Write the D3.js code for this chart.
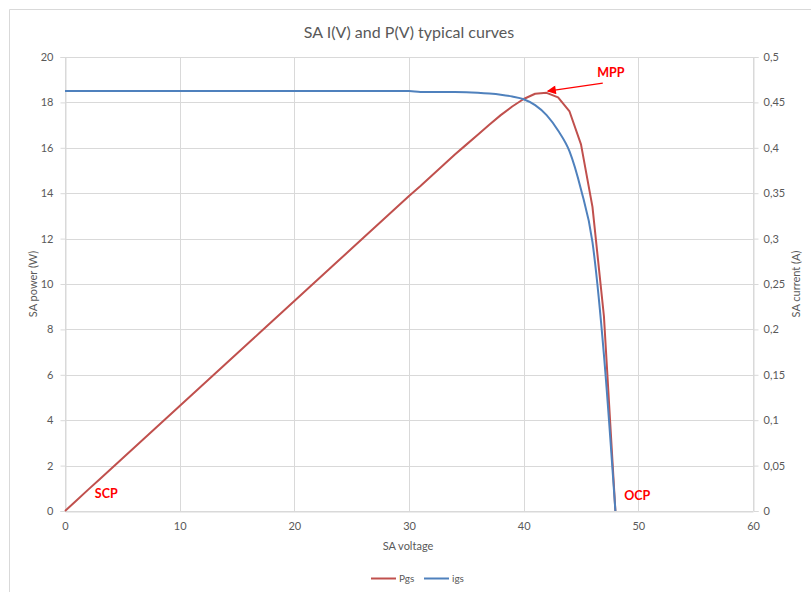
<!DOCTYPE html>
<html>
<head>
<meta charset="utf-8">
<script src="https://cdn.jsdelivr.net/npm/d3@7"></script>
<style>
  html, body { margin: 0; padding: 0; background: #fff; }
  svg { display: block; font-family: Lato, "Open Sans", sans-serif; }
</style>
</head>
<body>
<svg id="chart" width="811" height="592"></svg>
<script>
// ---- Data ----
const voltage = [0,1,2,3,4,5,6,7,8,9,10,11,12,13,14,15,16,17,18,19,20,21,22,23,24,25,26,27,28,29,30,31,32,33,34,35,36,37,38,39,40,41,42,43,44,45,46,47,48];
const powerPgs = [0,0.46,0.93,1.39,1.85,2.31,2.78,3.24,3.70,4.16,4.63,5.09,5.55,6.01,6.48,6.94,7.40,7.86,8.33,8.79,9.25,9.71,10.18,10.64,11.10,11.56,12.03,12.49,12.95,13.41,13.88,14.32,14.78,15.24,15.70,16.14,16.58,17.02,17.44,17.82,18.15,18.38,18.42,18.22,17.60,16.15,13.40,8.58,0];
const currentIgs = [0.4625,0.4625,0.4625,0.4625,0.4625,0.4625,0.4625,0.4625,0.4625,0.4625,0.4625,0.4625,0.4625,0.4625,0.4625,0.4625,0.4625,0.4625,0.4625,0.4625,0.4625,0.4625,0.4625,0.4625,0.4625,0.4625,0.4625,0.4625,0.4625,0.4625,0.4625,0.4615,0.4615,0.4615,0.4615,0.4613,0.4607,0.4598,0.4585,0.4565,0.4535,0.447,0.436,0.419,0.396,0.354,0.296,0.172,0];
const xTicks = [0,10,20,30,40,50,60];
const yLeftTicks = [0,2,4,6,8,10,12,14,16,18,20];
const yRightTicks = [0,0.05,0.1,0.15,0.2,0.25,0.3,0.35,0.4,0.45,0.5];
const seriesNames = ["Pgs","igs"];
const annotations = [
  {text:"SCP", v:3.6, p:0.75},
  {text:"OCP", v:49.9, p:0.66},
  {text:"MPP", v:47.6, p:19.3}
];
const arrowFrom = {v:46.9, p:18.85};
const arrowTo = {v:42.1, p:18.5};

// ---- Layout ----
const svg = d3.select("#chart");
const pL = 65, pR = 753, pT = 57, pB = 511;
const x = d3.scaleLinear().domain([0,60]).range([pL,pR]);
const yL = d3.scaleLinear().domain([0,20]).range([pB,pT]);
const yR = d3.scaleLinear().domain([0,0.5]).range([pB,pT]);
const gridColor = "#d9d9d9", textColor = "#595959";
const red = "#C0504D", blue = "#4F81BD";

svg.append("rect").attr("x",0).attr("y",0).attr("width",811).attr("height",592).attr("fill","#fff");
// chart border
svg.append("path").attr("d","M9.5,600V9.5H820").attr("fill","none").attr("stroke",gridColor).attr("stroke-width",1);

// title
svg.append("text").attr("x",409).attr("y",38).attr("text-anchor","middle")
  .attr("font-size",16).attr("fill",textColor).text("SA I(V) and P(V) typical curves");

// gridlines
svg.append("g").selectAll("line").data(yLeftTicks).join("line")
  .attr("x1",pL).attr("x2",pR)
  .attr("y1",d=>Math.round(yL(d))+0.5).attr("y2",d=>Math.round(yL(d))+0.5)
  .attr("stroke",gridColor);
svg.append("g").selectAll("line").data(xTicks).join("line")
  .attr("y1",pT).attr("y2",pB)
  .attr("x1",d=>Math.round(x(d))+0.5).attr("x2",d=>Math.round(x(d))+0.5)
  .attr("stroke",gridColor);

// axes
const fmtR = d => d3.format("~g")(d).replace(".", ",");
const axL = svg.append("g").attr("transform",`translate(${pL+0.5},0)`)
  .call(d3.axisLeft(yL).tickValues(yLeftTicks).tickSize(5).tickPadding(7));
const axR = svg.append("g").attr("transform",`translate(${pR+0.5},0)`)
  .call(d3.axisRight(yR).tickValues(yRightTicks).tickSize(5).tickPadding(5).tickFormat(fmtR));
const axB = svg.append("g").attr("transform",`translate(0,${pB+0.5})`)
  .call(d3.axisBottom(x).tickValues(xTicks).tickSize(0).tickPadding(11));
[axL,axR,axB].forEach(a=>{
  a.selectAll(".domain").attr("stroke",gridColor);
  a.selectAll(".tick line").attr("stroke",gridColor);
  a.selectAll("text").attr("fill",textColor).attr("font-size",11).attr("font-family","Lato, sans-serif");
});

// axis titles
svg.append("text").attr("transform","translate(37,284) rotate(-90)").attr("text-anchor","middle")
  .attr("font-size",11).attr("fill",textColor).text("SA power (W)");
svg.append("text").attr("transform","translate(800,284) rotate(-90)").attr("text-anchor","middle")
  .attr("font-size",11).attr("fill",textColor).text("SA current (A)");
svg.append("text").attr("x",408).attr("y",550).attr("text-anchor","middle")
  .attr("font-size",11).attr("fill",textColor).text("SA voltage");

// lines
const pData = voltage.map((v,i)=>[v,powerPgs[i]]);
const iData = voltage.map((v,i)=>[v,currentIgs[i]]);
svg.append("path").datum(pData)
  .attr("d", d3.line().x(d=>x(d[0])).y(d=>yL(d[1])))
  .attr("fill","none").attr("stroke",red).attr("stroke-width",2).attr("stroke-linejoin","round");
svg.append("path").datum(iData)
  .attr("d", d3.line().x(d=>x(d[0])).y(d=>yR(d[1])).curve(d3.curveMonotoneX))
  .attr("fill","none").attr("stroke",blue).attr("stroke-width",2).attr("stroke-linejoin","round");

// annotations
svg.selectAll(".ann").data(annotations).join("text")
  .attr("x",d=>x(d.v)).attr("y",d=>yL(d.p)+4).attr("text-anchor","middle")
  .attr("font-size",12.5).attr("font-weight","bold").attr("fill","#FF0000").text(d=>d.text);
svg.append("defs").append("marker").attr("id","arr").attr("viewBox","0 0 10 10")
  .attr("refX",9).attr("refY",5).attr("orient","auto")
  .attr("markerUnits","userSpaceOnUse").attr("markerWidth",11).attr("markerHeight",9)
  .append("path").attr("d","M0,0L10,5L0,10z").attr("fill","#FF0000");
svg.append("line").attr("x1",x(arrowFrom.v)).attr("y1",yL(arrowFrom.p))
  .attr("x2",x(arrowTo.v)).attr("y2",yL(arrowTo.p))
  .attr("stroke","#FF0000").attr("stroke-width",1.2).attr("marker-end","url(#arr)");

// legend
const legend = svg.append("g");
const legItems = [{name:seriesNames[0],color:red,x0:371},{name:seriesNames[1],color:blue,x0:424}];
legItems.forEach(it=>{
  legend.append("line").attr("x1",it.x0).attr("x2",it.x0+25).attr("y1",578.5).attr("y2",578.5)
    .attr("stroke",it.color).attr("stroke-width",2);
  legend.append("text").attr("x",it.x0+28).attr("y",582).attr("font-size",10)
    .attr("fill",textColor).text(it.name);
});
</script>
</body>
</html>
